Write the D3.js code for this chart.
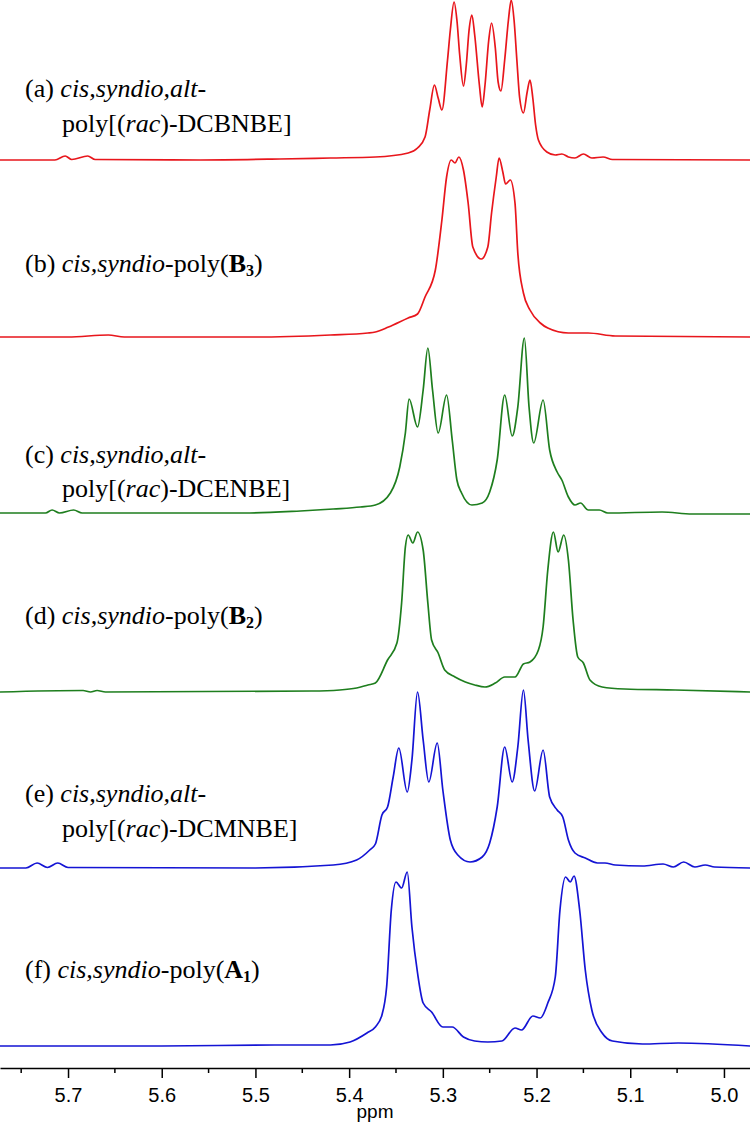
<!DOCTYPE html>
<html>
<head>
<meta charset="utf-8">
<script src="https://cdn.jsdelivr.net/npm/d3@7"></script>
<style>
  body { margin: 0; background: #fff; }
  .label { font-family: "Liberation Serif", "Times New Roman", serif; font-size: 26px; fill: #000; }
  .axis text { font-family: "Liberation Sans", Arial, sans-serif; font-size: 20px; fill: #000; }
</style>
</head>
<body>
<div id="chart"></div>
<script>
// [ppm, intensity], left to right
const specA = [[5.773,0],[5.714,0],[5.703,4],[5.696,0.5],[5.679,4],[5.671,0.5],[5.559,0],[5.474,1],[5.420,2],[5.372,3],[5.337,7],[5.327,12],[5.319,23],[5.314,50],[5.309,75],[5.305,62],[5.301,50],[5.295,100],[5.292,130],[5.288,158],[5.285,140],[5.282,105],[5.278,74],[5.275,95],[5.272,130],[5.269,145],[5.266,125],[5.261,75],[5.258,53],[5.255,75],[5.251,120],[5.248,137],[5.244,112],[5.241,78],[5.238,69],[5.234,100],[5.230,140],[5.227,160],[5.224,140],[5.221,100],[5.218,62],[5.214,47],[5.210,68],[5.207,80],[5.204,62],[5.201,35],[5.198,20],[5.189,8],[5.180,5],[5.173,6],[5.166,3],[5.159,2],[5.150,6],[5.141,2],[5.129,3],[5.119,0.5],[4.972,0]];
const specB = [[5.773,0],[5.700,0],[5.657,2],[5.640,0],[5.500,0],[5.420,2],[5.380,4],[5.372,5],[5.358,10],[5.337,19],[5.327,23],[5.319,40],[5.308,67],[5.301,117],[5.296,160],[5.291,177],[5.287,174],[5.283,180],[5.278,167],[5.273,134],[5.268,90],[5.259,78],[5.252,90],[5.248,124],[5.243,160],[5.240,179],[5.236,165],[5.233,153],[5.228,157],[5.223,134],[5.220,84],[5.214,44],[5.207,27],[5.196,14],[5.188,9],[5.166,4],[5.145,4],[5.116,1],[4.972,0]];
const specC = [[5.773,1],[5.724,1],[5.717,4],[5.709,1],[5.694,4],[5.685,1],[5.506,1],[5.452,3],[5.417,5],[5.388,7],[5.372,9],[5.356,21],[5.346,47],[5.340,81],[5.336,115],[5.327,87],[5.321,124],[5.316,166],[5.311,124],[5.305,81],[5.296,119],[5.290,74],[5.285,34],[5.280,21],[5.269,9],[5.258,11],[5.250,22],[5.242,54],[5.234,119],[5.226,78],[5.220,107],[5.213,176],[5.208,107],[5.203,71],[5.193,114],[5.186,64],[5.178,42],[5.173,34],[5.166,17],[5.159,9],[5.153,11],[5.145,4],[5.133,4],[5.124,1],[5.066,2],[5.034,0],[4.972,0]];
const specD = [[5.773,0],[5.684,1.5],[5.676,0],[5.669,1.5],[5.660,0],[5.440,1],[5.410,2],[5.392,4],[5.380,7],[5.372,9],[5.359,32],[5.349,49],[5.344,89],[5.340,145],[5.337,157],[5.332,149],[5.327,160],[5.321,142],[5.316,89],[5.312,52],[5.305,39],[5.298,22],[5.287,15],[5.276,10],[5.266,7],[5.255,5],[5.244,9],[5.234,15],[5.223,15],[5.214,28],[5.207,30],[5.198,42],[5.193,65],[5.188,122],[5.182,160],[5.177,140],[5.171,157],[5.166,132],[5.161,72],[5.156,35],[5.150,29],[5.143,12],[5.130,5],[5.106,3],[5.052,2],[4.972,0]];
const specE = [[5.773,0],[5.745,0],[5.733,5],[5.722,0.5],[5.711,5],[5.700,0.5],[5.500,0],[5.417,3],[5.392,8],[5.378,18],[5.372,24],[5.365,53],[5.359,61],[5.353,91],[5.347,120],[5.338,76],[5.333,108],[5.327,176],[5.321,128],[5.315,86],[5.306,125],[5.300,78],[5.292,28],[5.284,13],[5.271,6],[5.258,11],[5.250,25],[5.242,61],[5.234,121],[5.226,86],[5.220,121],[5.214,178],[5.209,128],[5.202,77],[5.193,118],[5.186,71],[5.178,58],[5.172,51],[5.166,28],[5.159,15],[5.148,10],[5.135,5],[5.127,5],[5.116,3],[5.087,2],[5.065,4],[5.054,1],[5.043,6],[5.031,1],[5.020,3],[5.010,1],[4.972,0]];
const specF = [[5.773,0],[5.600,0],[5.480,1],[5.420,1],[5.399,4],[5.381,13],[5.372,19],[5.365,31],[5.360,59],[5.355,136],[5.350,164],[5.344,158],[5.338,174],[5.333,119],[5.327,73],[5.321,43],[5.312,34],[5.300,19],[5.290,19],[5.278,9],[5.266,5],[5.252,4],[5.237,5],[5.223,18],[5.216,16],[5.204,30],[5.196,28],[5.188,43],[5.180,69],[5.175,136],[5.169,169],[5.164,164],[5.160,170],[5.154,136],[5.148,76],[5.141,36],[5.130,13],[5.119,5],[5.087,2],[5.049,3],[4.972,0]];

const majorTicks = [5.7, 5.6, 5.5, 5.4, 5.3, 5.2, 5.1, 5.0];
const minorTicks = [5.75, 5.65, 5.55, 5.45, 5.35, 5.25, 5.15, 5.05];

var width = 750;
var height = 1124;

var red = "#e8161c", green = "#1e7e1e", blue = "#1414d4";

// baseline y of each trace
var traces = [
  { data: specA, base: 160, color: red },
  { data: specB, base: 337, color: red },
  { data: specC, base: 514, color: green },
  { data: specD, base: 692, color: green },
  { data: specE, base: 868, color: blue },
  { data: specF, base: 1046, color: blue }
];

var svg = d3.select("#chart")
  .append("svg")
  .attr("width", width)
  .attr("height", height);

var x = d3.scaleLinear()
  .domain([5.7726, 4.9722])
  .range([0, width]);

var y = d3.scaleLinear()
  .domain([0, 180])
  .range([0, -180]);

var line = d3.line()
  .x(d => x(d[0]))
  .y(d => y(d[1]))
  .curve(d3.curveMonotoneX);

traces.forEach(t => {
  svg.append("g")
    .attr("transform", "translate(0," + t.base + ")")
    .append("path")
    .datum(t.data)
    .attr("d", line)
    .attr("fill", "none")
    .attr("stroke", t.color)
    .attr("stroke-width", 1.7)
    .attr("stroke-linejoin", "round");
});

// captions
function caption(yPos, xPos, parts) {
  let txt = svg.append("text")
    .attr("class", "label")
    .attr("x", xPos)
    .attr("y", yPos);
  parts.forEach(p => {
    let ts = txt.append("tspan").text(p.t);
    if (p.i) ts.attr("font-style", "italic");
    if (p.b) ts.attr("font-weight", "bold");
    if (p.sub) ts.attr("font-size", "16px").attr("dy", 4);
    if (p.up) ts.attr("dy", -4);
  });
}

caption(97, 25, [{ t: "(a) " }, { t: "cis,syndio,alt-", i: true }]);
caption(132, 62, [{ t: "poly[(" }, { t: "rac", i: true }, { t: ")-DCBNBE]" }]);
caption(272, 25, [{ t: "(b) " }, { t: "cis,syndio", i: true }, { t: "-poly(" }, { t: "B", b: true }, { t: "3", b: true, sub: true }, { t: ")", up: true }]);
caption(463, 25, [{ t: "(c) " }, { t: "cis,syndio,alt-", i: true }]);
caption(497, 62, [{ t: "poly[(" }, { t: "rac", i: true }, { t: ")-DCENBE]" }]);
caption(624, 25, [{ t: "(d) " }, { t: "cis,syndio", i: true }, { t: "-poly(" }, { t: "B", b: true }, { t: "2", b: true, sub: true }, { t: ")", up: true }]);
caption(802, 25, [{ t: "(e) " }, { t: "cis,syndio,alt-", i: true }]);
caption(837, 62, [{ t: "poly[(" }, { t: "rac", i: true }, { t: ")-DCMNBE]" }]);
caption(978, 25, [{ t: "(f) " }, { t: "cis,syndio", i: true }, { t: "-poly(" }, { t: "A", b: true }, { t: "1", b: true, sub: true }, { t: ")", up: true }]);

// ppm axis
var axisY = 1068;
svg.append("g")
  .attr("class", "axis")
  .attr("transform", "translate(0," + axisY + ")")
  .call(d3.axisBottom(x)
    .tickValues(majorTicks)
    .tickFormat(d3.format(".1f"))
    .tickSize(10)
    .tickSizeOuter(0)
    .tickPadding(10))
  .call(g => g.select(".domain").attr("stroke-width", 1.5))
  .call(g => g.selectAll(".tick line").attr("stroke-width", 1.5));

svg.append("g")
  .attr("transform", "translate(0," + axisY + ")")
  .selectAll("line")
  .data(minorTicks)
  .join("line")
  .attr("x1", d => x(d))
  .attr("x2", d => x(d))
  .attr("y1", 0)
  .attr("y2", 5)
  .attr("stroke", "#000")
  .attr("stroke-width", 1.5);

svg.append("text")
  .attr("x", 375)
  .attr("y", 1118)
  .attr("text-anchor", "middle")
  .style("font-family", "Liberation Sans, Arial, sans-serif")
  .style("font-size", "19px")
  .text("ppm");
</script>
</body>
</html>
